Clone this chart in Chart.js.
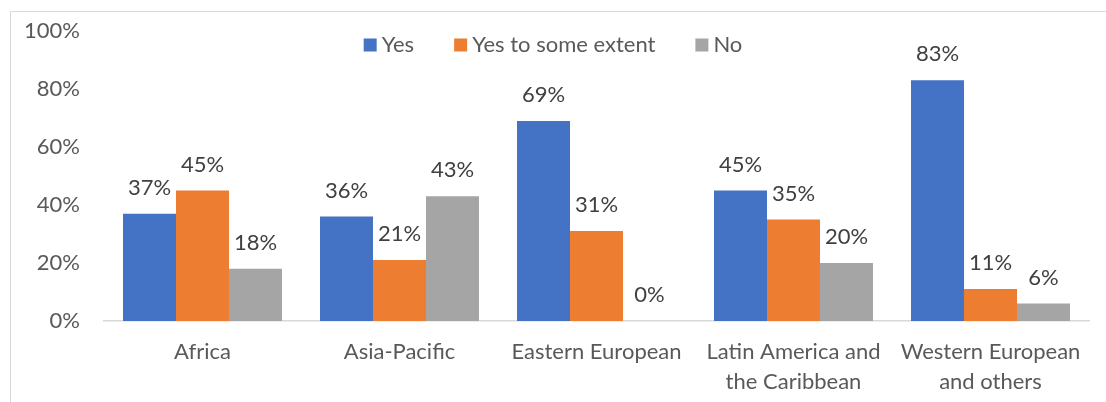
<!DOCTYPE html>
<html>
<head>
<meta charset="utf-8">
<script src="https://cdn.jsdelivr.net/npm/chart.js@4"></script>
<style>
    html, body { margin: 0; padding: 0; background: #fff; }
    #wrap { position: relative; width: 1106px; height: 402px; overflow: hidden; }
    #frame { position: absolute; left: 10px; top: 11px; width: 1200px; height: 500px; border: 1.5px solid #d9d9d9; }
    #chart { position: absolute; left: 0; top: 0; }
</style>
</head>
<body>
<div id="wrap">
    <div id="frame"></div>
    <canvas id="chart" width="1106" height="402"></canvas>
</div>
<script>
// Chart data
const regions = ['Africa', 'Asia-Pacific', 'Eastern European', ['Latin America and', 'the Caribbean'], ['Western European', 'and others']];
const yesValues = [37, 36, 69, 45, 83];
const someValues = [45, 21, 31, 35, 11];
const noValues = [18, 43, 0, 20, 6];
const seriesNames = ['Yes', 'Yes to some extent', 'No'];
const seriesColors = ['#4472C4', '#ED7D31', '#A5A5A5'];

const fontFamily = 'Lato, "Open Sans", sans-serif';
const fontSize = 22;

// Value labels above each bar
const barLabels = {
    id: 'barLabels',
    afterDatasetsDraw(chart) {
        const ctx = chart.ctx;
        ctx.save();
        ctx.font = fontSize + 'px ' + fontFamily;
        ctx.fillStyle = '#404040';
        ctx.textAlign = 'center';
        ctx.textBaseline = 'middle';
        chart.data.datasets.forEach((ds, i) => {
            chart.getDatasetMeta(i).data.forEach((bar, j) => {
                ctx.fillText(ds.data[j] + '%', bar.x, bar.y - 26);
            });
        });
        ctx.restore();
    }
};

// Legend drawn inside the plot area, centered at the top
const innerLegend = {
    id: 'innerLegend',
    afterDraw(chart) {
        const ctx = chart.ctx;
        ctx.save();
        ctx.font = fontSize + 'px ' + fontFamily;
        ctx.textBaseline = 'middle';
        const box = 13, gap = 5, spacing = 40;
        const items = chart.data.datasets.map(ds => ({ text: ds.label, color: ds.backgroundColor, w: ctx.measureText(ds.label).width }));
        let total = 0;
        items.forEach((it, i) => { total += box + gap + it.w + (i < items.length - 1 ? spacing : 0); });
        let x = chart.width / 2 - total / 2;
        const y = 45;
        items.forEach(it => {
            ctx.fillStyle = it.color;
            ctx.fillRect(x, y - box / 2, box, box);
            x += box + gap;
            ctx.fillStyle = '#595959';
            ctx.fillText(it.text, x, y);
            x += it.w + spacing;
        });
        ctx.restore();
    }
};

const ctx = document.getElementById('chart').getContext('2d');
new Chart(ctx, {
    type: 'bar',
    data: {
        labels: regions,
        datasets: [
            { label: seriesNames[0], data: yesValues, backgroundColor: seriesColors[0] },
            { label: seriesNames[1], data: someValues, backgroundColor: seriesColors[1] },
            { label: seriesNames[2], data: noValues, backgroundColor: seriesColors[2] }
        ]
    },
    options: {
        responsive: false,
        animation: false,
        layout: { padding: { left: 0, top: 31, right: 17, bottom: 0 } },
        datasets: { bar: { categoryPercentage: 0.807, barPercentage: 1.0 } },
        plugins: {
            legend: { display: false },
            tooltip: { enabled: false }
        },
        scales: {
            x: {
                grid: { display: false, drawTicks: false },
                border: { display: true, color: '#d9d9d9', width: 1.5 },
                ticks: { color: '#595959', font: { family: fontFamily, size: fontSize, lineHeight: 1.35 }, padding: 16, maxRotation: 0, autoSkip: false },
                afterFit(scale) { scale.height = 81; }
            },
            y: {
                min: 0,
                max: 100,
                grid: { display: false, drawTicks: false },
                border: { display: false },
                ticks: {
                    stepSize: 20,
                    color: '#595959',
                    font: { family: fontFamily, size: fontSize },
                    padding: 24,
                    callback: v => v + '%'
                },
                afterFit(scale) {
                    scale.width = 104;
                    scale.paddingTop = 0;
                    scale.paddingBottom = 0;
                }
            }
        }
    },
    plugins: [barLabels, innerLegend]
});
</script>
</body>
</html>
